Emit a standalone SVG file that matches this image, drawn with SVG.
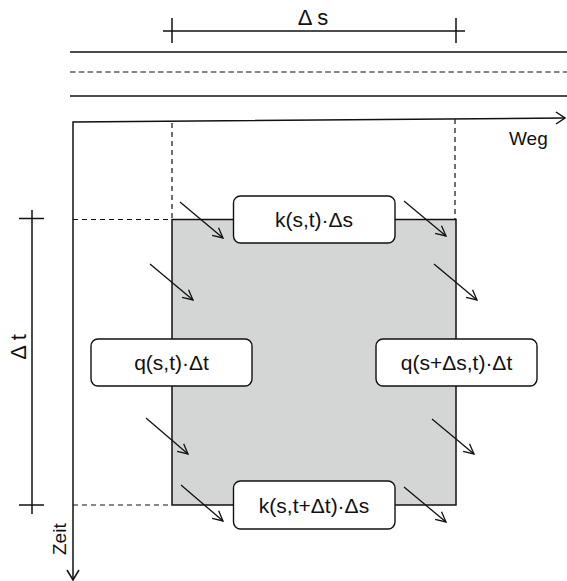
<svg xmlns="http://www.w3.org/2000/svg" width="567" height="581" viewBox="0 0 567 581">
<style>
.ln{stroke:#111;stroke-width:1.5;fill:none}
.dash{stroke:#111;stroke-width:1.2;fill:none;stroke-dasharray:5,4}
.box{fill:#fff;stroke:#111;stroke-width:1.4}
.lbl{font-family:"Liberation Sans",Arial,sans-serif;font-size:21px;fill:#111;text-anchor:middle;dominant-baseline:central}
.ax{font-family:"Liberation Sans",Arial,sans-serif;font-size:19px;fill:#111}
.arr{stroke:#111;stroke-width:1.3;fill:none;marker-end:url(#v)}
</style>
<defs>
<marker id="v" viewBox="0 0 12 12" refX="11" refY="6" markerWidth="12" markerHeight="12" markerUnits="userSpaceOnUse" orient="auto">
<path d="M1,1 L11,6 L1,11" fill="none" stroke="#111" stroke-width="1.3"/>
</marker>
</defs>
<g id="road">
<line class="ln" x1="70" y1="52" x2="567" y2="52"/>
<line class="dash" x1="70" y1="72" x2="567" y2="72" style="stroke-dasharray:5.5,3.3"/>
<line class="ln" x1="70" y1="96" x2="567" y2="96"/>
</g>
<g id="ds-dim">
<line class="ln" x1="163" y1="31" x2="465" y2="31"/>
<line class="ln" x1="172" y1="18" x2="172" y2="43"/>
<line class="ln" x1="456" y1="18" x2="456" y2="43"/>
<text class="lbl" x="313" y="17" style="font-size:22px">Δ s</text>
</g>
<g id="dt-dim">
<line class="ln" x1="32" y1="210" x2="32" y2="514"/>
<line class="ln" x1="19" y1="218.5" x2="44" y2="218.5"/>
<line class="ln" x1="19" y1="505" x2="44" y2="505"/>
<text class="lbl" transform="translate(18,347) rotate(-90)" style="font-size:22px">Δ t</text>
</g>
<g id="guides">
<line class="dash" x1="172" y1="123" x2="172" y2="219"/>
<line class="dash" x1="455" y1="119" x2="455" y2="219"/>
<line class="dash" x1="73" y1="219.5" x2="172" y2="219.5"/>
<line class="dash" x1="73" y1="505" x2="172" y2="505"/>
</g>
<g id="cell">
<rect x="172" y="219.5" width="284" height="285.5" fill="#d4d5d5" stroke="#111" stroke-width="1.5"/>
</g>
<g id="axes">
<polyline class="ln" points="73,580 73,122 565,118"/>
<path class="ln" d="M556,112 L565,118 L556,124"/>
<path class="ln" d="M67,570 L73,580 L79,570"/>
<text class="ax" x="509" y="145">Weg</text>
<text class="ax" transform="translate(66,555) rotate(-90)">Zeit</text>
</g>
<g id="connectors">
<line class="arr" x1="180" y1="202" x2="223" y2="238"/>
<line class="arr" x1="150" y1="264" x2="193" y2="300"/>
<line class="arr" x1="404" y1="201" x2="446" y2="236"/>
<line class="arr" x1="434" y1="264" x2="477" y2="300"/>
<line class="arr" x1="146" y1="418" x2="188" y2="454"/>
<line class="arr" x1="181" y1="485" x2="223" y2="521"/>
<line class="arr" x1="432" y1="419" x2="474" y2="454"/>
<line class="arr" x1="404" y1="487" x2="446" y2="522"/>
</g>
<g id="k-top">
<rect class="box" x="233.5" y="196" width="161.5" height="47" rx="7"/>
<text class="lbl" x="314" y="219.5">k(s,t)·Δs</text>
</g>
<g id="q-left">
<rect class="box" x="91" y="339" width="161" height="47" rx="7"/>
<text class="lbl" x="171.5" y="362.5">q(s,t)·Δt</text>
</g>
<g id="q-right">
<rect class="box" x="376" y="339" width="161" height="47" rx="7"/>
<text class="lbl" x="456.5" y="362.5">q(s+Δs,t)·Δt</text>
</g>
<g id="k-bottom">
<rect class="box" x="233.5" y="481" width="161.5" height="48" rx="7"/>
<text class="lbl" x="314" y="505">k(s,t+Δt)·Δs</text>
</g>
</svg>
